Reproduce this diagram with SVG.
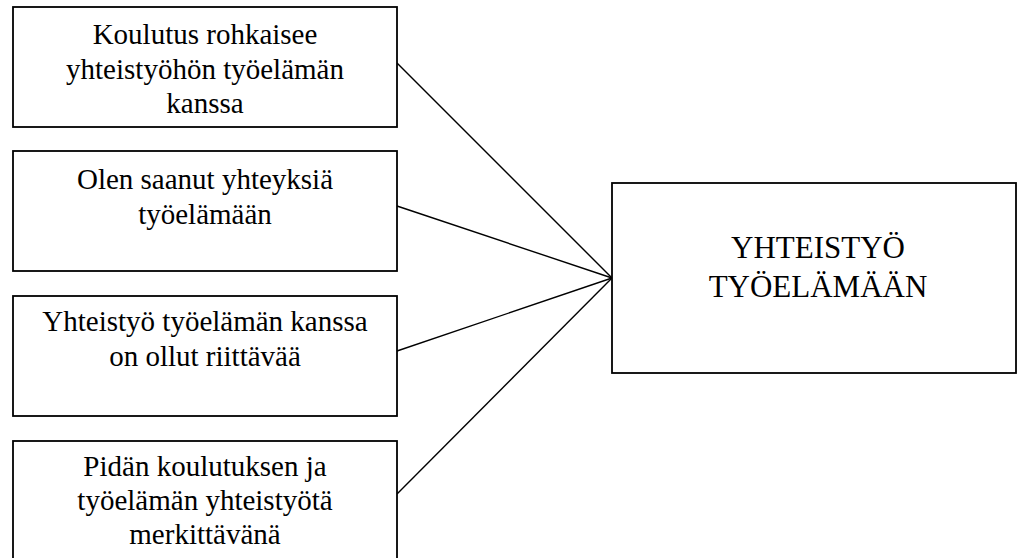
<svg xmlns="http://www.w3.org/2000/svg" width="1018" height="558" viewBox="0 0 1018 558">
  <style>
    .box { fill: #ffffff; stroke: #000000; stroke-width: 1.8; }
    .lbl { font-family: "Liberation Serif", "Times New Roman", serif; font-size: 29px; fill: #000000; text-anchor: middle; }
    .big { font-size: 31px; }
    .link { stroke: #000000; stroke-width: 1.4; fill: none; }
  </style>
  <rect x="0" y="0" width="1018" height="558" fill="#ffffff"/>

  <!-- connectors: each factor box joins the target box at one point -->
  <g id="connectors">
    <line class="link" x1="397" y1="63" x2="612" y2="278"/>
    <line class="link" x1="397" y1="206" x2="612" y2="278"/>
    <line class="link" x1="397" y1="351" x2="612" y2="278"/>
    <line class="link" x1="397" y1="494" x2="612" y2="278"/>
  </g>

  <g id="node-koulutus">
    <rect class="box" x="13" y="7" width="384" height="120"/>
    <text class="lbl" x="205" y="44">Koulutus rohkaisee</text>
    <text class="lbl" x="205" y="79">yhteistyöhön työelämän</text>
    <text class="lbl" x="205" y="113">kanssa</text>
  </g>

  <g id="node-yhteyksia">
    <rect class="box" x="13" y="151" width="384" height="120"/>
    <text class="lbl" x="205" y="189">Olen saanut yhteyksiä</text>
    <text class="lbl" x="205" y="224">työelämään</text>
  </g>

  <g id="node-riittavaa">
    <rect class="box" x="13" y="296" width="384" height="120"/>
    <text class="lbl" x="205" y="331">Yhteistyö työelämän kanssa</text>
    <text class="lbl" x="205" y="366">on ollut riittävää</text>
  </g>

  <g id="node-merkittava">
    <rect class="box" x="13" y="441" width="384" height="130"/>
    <text class="lbl" x="205" y="476">Pidän koulutuksen ja</text>
    <text class="lbl" x="205" y="510">työelämän yhteistyötä</text>
    <text class="lbl" x="205" y="544">merkittävänä</text>
  </g>

  <g id="node-yhteistyo">
    <rect class="box" x="612" y="183" width="404" height="190"/>
    <text class="lbl big" x="818" y="258">YHTEISTYÖ</text>
    <text class="lbl big" x="818" y="297">TYÖELÄMÄÄN</text>
  </g>
</svg>
